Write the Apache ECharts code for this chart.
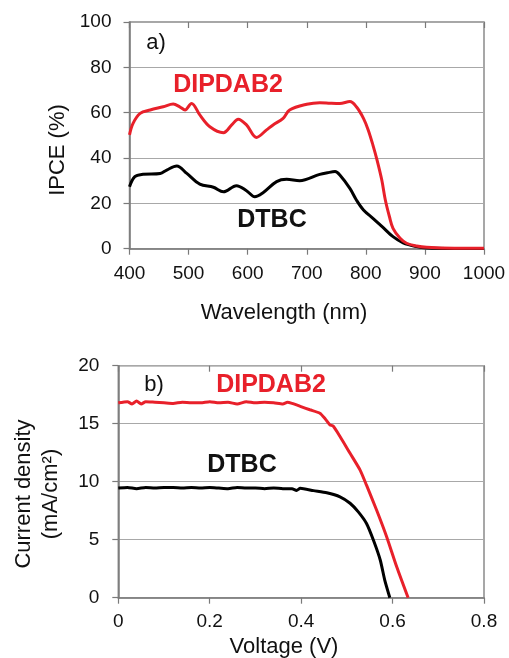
<!DOCTYPE html>
<html>
<head>
<meta charset="UTF-8">
<title>IPCE and J-V</title>
<script src="https://cdn.jsdelivr.net/npm/echarts@6/dist/echarts.min.js"></script>
<style>
  html, body { margin: 0; padding: 0; background: #fff; }
  #main { width: 509px; height: 658px; }
</style>
</head>
<body>
<div id="main"></div>
<script type="text/javascript">
// a) IPCE spectra
var wlRed = [400, 406, 418, 435, 457, 474, 485, 494, 505, 519, 536, 559, 573, 584, 598, 615, 632, 643, 660, 671, 700, 722, 740, 756, 773, 784, 796, 804, 812, 819, 827, 833, 840, 846, 858, 869, 886, 903, 950, 1000];
var ipceRed = [50.2, 55.3, 59.7, 61.2, 62.6, 63.8, 62.6, 61.2, 64.1, 59, 53.8, 51.2, 54.6, 57.1, 54.6, 49.1, 52.4, 54.6, 57.5, 61.2, 63.7, 64.4, 64.2, 64.1, 64.9, 62.6, 57.5, 52.4, 45.7, 39.1, 30.3, 21.5, 14.1, 9, 4.6, 2.4, 1.2, 0.6, 0.2, 0.2];
var wlBlack = [400, 409, 423, 452, 463, 480, 497, 519, 542, 559, 581, 598, 612, 626, 649, 666, 688, 722, 735, 748, 756, 773, 784, 796, 812, 829, 846, 863, 886, 903, 950, 1000];
var ipceBlack = [27.3, 31.8, 32.8, 33.2, 34.7, 36.5, 33.2, 28.5, 27.1, 25.1, 27.8, 25.6, 22.9, 24.7, 29.6, 30.6, 30, 32.8, 33.5, 34, 32.5, 26.6, 21.5, 17.1, 13.4, 9.4, 5.3, 2.6, 0.9, 0.3, 0.1, 0.1];

// b) J-V curves
var vRed = [0, 0.02, 0.03, 0.04, 0.05, 0.06, 0.08, 0.1, 0.12, 0.14, 0.16, 0.18, 0.2, 0.22, 0.24, 0.26, 0.28, 0.3, 0.32, 0.34, 0.36, 0.37, 0.38, 0.398, 0.419, 0.441, 0.452, 0.463, 0.47, 0.485, 0.507, 0.529, 0.543, 0.565, 0.587, 0.609, 0.634];
var jRed = [16.8, 16.9, 16.7, 16.95, 16.7, 16.9, 16.85, 16.8, 16.75, 16.85, 16.8, 16.8, 16.9, 16.8, 16.85, 16.7, 16.9, 16.8, 16.85, 16.8, 16.7, 16.85, 16.75, 16.5, 16.2, 15.9, 15.45, 14.9, 14.8, 13.9, 12.45, 11.0, 9.7, 7.56, 5.26, 2.67, 0];
var vBlack = [0, 0.02, 0.04, 0.06, 0.08, 0.1, 0.12, 0.14, 0.16, 0.18, 0.2, 0.22, 0.24, 0.26, 0.28, 0.3, 0.32, 0.34, 0.36, 0.38, 0.39, 0.398, 0.427, 0.456, 0.485, 0.507, 0.525, 0.543, 0.558, 0.573, 0.583, 0.594];
var jBlack = [9.45, 9.5, 9.4, 9.5, 9.45, 9.5, 9.5, 9.45, 9.5, 9.45, 9.5, 9.45, 9.4, 9.5, 9.45, 9.45, 9.4, 9.45, 9.4, 9.4, 9.25, 9.43, 9.23, 9.05, 8.7, 8.14, 7.4, 6.4, 4.97, 3.25, 1.5, 0];

var topTicks = [0, 20, 40, 60, 80, 100];
var botTicks = [0, 5, 10, 15, 20];

function pairs(xs, ys) {
  var out = [];
  for (var i = 0; i < xs.length; i++) out.push([xs[i], ys[i]]);
  return out;
}

var RED = '#e8202a';
var AXIS = '#7a7a7a';
var FONT = 'Liberation Sans, Arial, sans-serif';
var tickLabel = { color: '#111', fontSize: 19, fontFamily: FONT };

var myChart = echarts.init(document.getElementById('main'));

function valueX(grid, min, max, interval, margin, fmt) {
  return {
    type: 'value', gridIndex: grid, min: min, max: max, interval: interval,
    axisLine: { show: true, lineStyle: { color: AXIS, width: 1.5 } },
    axisTick: { show: true, inside: false, length: 6, lineStyle: { color: AXIS, width: 1.2 } },
    axisLabel: Object.assign({ margin: margin, formatter: fmt }, tickLabel),
    splitLine: { show: false }
  };
}
function innerX(grid, min, max, interval) {
  return {
    type: 'value', gridIndex: grid, min: min, max: max, interval: interval,
    axisLine: { show: false },
    axisTick: { show: true, inside: true, length: 6, lineStyle: { color: AXIS, width: 1.2 } },
    axisLabel: { show: false }, splitLine: { show: false }
  };
}
function valueY(grid, min, max, interval, margin) {
  return {
    type: 'value', gridIndex: grid, min: min, max: max, interval: interval,
    axisLine: { show: true, lineStyle: { color: AXIS, width: 1.5 } },
    axisTick: { show: true, inside: false, length: 6, lineStyle: { color: AXIS, width: 1.2 } },
    axisLabel: Object.assign({ margin: margin }, tickLabel),
    splitLine: { show: true, lineStyle: { color: '#a8a8a8', width: 1.2 } }
  };
}

function label(text, x, y, size, color, bold, rot) {
  return {
    type: 'text', x: x, y: y, rotation: rot || 0,
    style: {
      text: text, fill: color, fontSize: size, fontFamily: FONT,
      fontWeight: bold ? 'bold' : 'normal',
      align: 'center', verticalAlign: 'middle'
    }
  };
}

var option = {
  animation: false,
  backgroundColor: '#fff',
  grid: [
    { left: 129.5, right: 25, top: 22, bottom: 409.3, show: true, borderColor: '#8a8a8a', borderWidth: 1.5 },
    { left: 118.3, right: 25, top: 365.7, bottom: 60.3, show: true, borderColor: '#8a8a8a', borderWidth: 1.5 }
  ],
  xAxis: [
    valueX(0, 400, 1000, 100, 16, function (v) { return String(v); }),
    valueX(1, 0, 0.8, 0.2, 15, function (v) { return v === 0 ? '0' : v.toFixed(1); }),
    innerX(0, 400, 1000, 100),
    innerX(1, 0, 0.8, 0.2)
  ],
  yAxis: [
    valueY(0, topTicks[0], topTicks[topTicks.length - 1], 20, 18),
    valueY(1, botTicks[0], botTicks[botTicks.length - 1], 5, 19)
  ],
  series: [
    { name: 'DIPDAB2', type: 'line', xAxisIndex: 0, yAxisIndex: 0, data: pairs(wlRed, ipceRed),
      smooth: 0.35, showSymbol: false, lineStyle: { color: RED, width: 3 }, z: 3 },
    { name: 'DTBC', type: 'line', xAxisIndex: 0, yAxisIndex: 0, data: pairs(wlBlack, ipceBlack),
      smooth: 0.35, showSymbol: false, lineStyle: { color: '#000', width: 3 }, z: 2 },
    { name: 'DIPDAB2', type: 'line', xAxisIndex: 1, yAxisIndex: 1, data: pairs(vRed, jRed),
      smooth: 0.2, showSymbol: false, lineStyle: { color: RED, width: 3 }, z: 3 },
    { name: 'DTBC', type: 'line', xAxisIndex: 1, yAxisIndex: 1, data: pairs(vBlack, jBlack),
      smooth: 0.2, showSymbol: false, lineStyle: { color: '#000', width: 3 }, z: 2 }
  ],
  graphic: [
    // axis names
    label('Wavelength (nm)', 284, 313, 22, '#111'),
    label('IPCE (%)', 58, 150, 22, '#111', false, Math.PI / 2),
    label('Voltage (V)', 284, 647, 22, '#111'),
    label('Current density', 24, 494, 22, '#111', false, Math.PI / 2),
    label('(mA/cm\u00B2)', 51, 494, 22, '#111', false, Math.PI / 2),
    // panel labels and series names
    label('a)', 156, 43, 22, '#111'),
    label('DIPDAB2', 228, 85, 25, RED, true),
    label('DTBC', 272, 220, 25, '#111', true),
    label('b)', 154, 385, 22, '#111'),
    label('DIPDAB2', 271, 385, 25, RED, true),
    label('DTBC', 242, 465, 25, '#111', true)
  ]
};

myChart.setOption(option);
</script>
</body>
</html>
